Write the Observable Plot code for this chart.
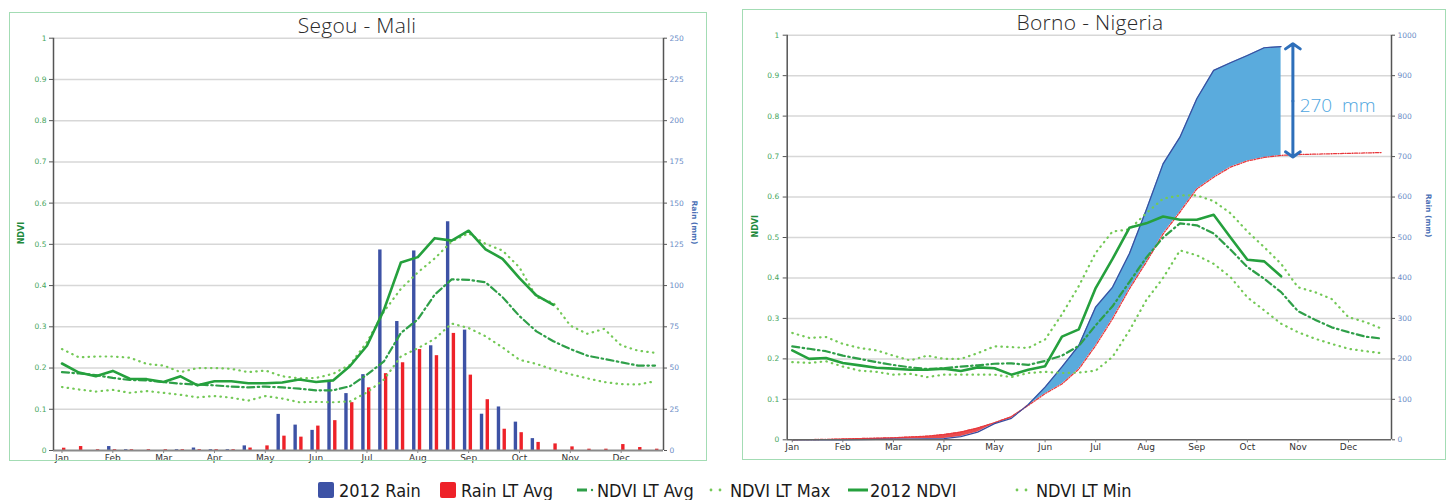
<!DOCTYPE html>
<html><head><meta charset="utf-8">
<script src="https://cdn.jsdelivr.net/npm/d3@7"></script>
<script src="https://cdn.jsdelivr.net/npm/@observablehq/plot@0.6"></script>
<style>
html,body{margin:0;padding:0;background:#fff;}
#root{position:relative;width:1452px;height:500px;overflow:hidden;}
.chart{position:absolute;}
.frame{position:absolute;box-sizing:border-box;border:1.5px solid #a3dcb4;pointer-events:none;}
.title{position:absolute;font-family:"Open Sans",sans-serif;font-weight:300;font-size:21px;color:#2a2a2a;white-space:pre;transform:translateX(-50%);line-height:1;letter-spacing:0.3px;}
#legend{position:absolute;left:0;top:470px;}
</style></head><body><div id="root">
<div class="chart" id="segou" style="left:9px;top:12px"></div>
<div class="chart" id="borno" style="left:742px;top:9px"></div>
<div class="frame" style="left:9px;top:12px;width:698px;height:449px"></div>
<div class="frame" style="left:742px;top:9px;width:704px;height:451px"></div>
<div class="title" style="left:357px;top:15px">Segou - Mali</div>
<div class="title" style="left:1090px;top:12px">Borno - Nigeria</div>
<svg id="legend" width="1452" height="30"></svg>
</div>
<script>
// ---------- categories / ticks ----------
const months = ["Jan","Feb","Mar","Apr","May","Jun","Jul","Aug","Sep","Oct","Nov","Dec"];
const monthTickDekads = [0,3,6,9,12,15,18,21,24,27,30,33];
const ndviTicks = [0,0.1,0.2,0.3,0.4,0.5,0.6,0.7,0.8,0.9,1];
const ndviGrid = [0.1,0.2,0.3,0.4,0.5,0.6,0.7,0.8,0.9,1];
const segouRainTicks = [0,25,50,75,100,125,150,175,200,225,250];
const bornoRainTicks = [0,100,200,300,400,500,600,700,800,900,1000];
const legendLabels = ["2012 Rain","Rain LT Avg","NDVI LT Avg","NDVI LT Max","2012 NDVI","NDVI LT Min"];

// ---------- Segou - Mali (dekadal) ----------
const segouRain2012 = [0,0,0,2.4,0.5,0,0,0.5,1.5,0.5,0.5,2.8,0,21.9,15.4,12.2,41.8,34.5,46,121.6,78.2,121,63.5,138.7,73,22,26.4,17.2,7.2,0,0,0,0,0,0,0];
const segouRainLT   = [1.4,2.4,0.5,0.5,0.5,0.5,0.5,0.5,0.5,0.5,0.5,1.5,2.8,8.7,8.1,14.8,18.1,29,38,46.6,53.2,61.2,57.5,71,45.7,30.8,12.9,10.8,4.9,4,2.2,0.8,0.8,3.6,1.8,0.8];
const segouNdvi2012 = [0.211,0.189,0.180,0.193,0.174,0.173,0.166,0.180,0.158,0.168,0.168,0.163,0.163,0.165,0.172,0.166,0.170,0.205,0.254,0.341,0.456,0.469,0.515,0.509,0.533,0.488,0.465,0.418,0.376,0.353];
const segouNdviAvg  = [0.190,0.187,0.183,0.176,0.171,0.170,0.166,0.162,0.160,0.158,0.155,0.153,0.155,0.153,0.150,0.146,0.146,0.156,0.184,0.216,0.285,0.318,0.378,0.415,0.414,0.408,0.372,0.326,0.289,0.265,0.246,0.230,0.222,0.214,0.206,0.206];
const segouNdviMax  = [0.246,0.226,0.228,0.228,0.225,0.210,0.206,0.190,0.200,0.200,0.198,0.190,0.194,0.180,0.175,0.176,0.186,0.208,0.263,0.337,0.392,0.432,0.466,0.507,0.527,0.501,0.485,0.444,0.372,0.358,0.303,0.283,0.295,0.255,0.242,0.237];
const segouNdviMin  = [0.154,0.148,0.143,0.147,0.140,0.144,0.140,0.135,0.129,0.132,0.128,0.121,0.132,0.126,0.117,0.118,0.117,0.119,0.141,0.172,0.228,0.248,0.271,0.308,0.297,0.277,0.250,0.220,0.210,0.196,0.185,0.175,0.166,0.161,0.160,0.168];

// ---------- Borno - Nigeria (dekadal) ----------
const bornoRainCum2012 = [0,0,0,0,0.5,1,1.5,2,2.5,3,8,19,40,53,87,130,180,233,328,377,460,568,682,748,843,913,932,950,969,972];
const bornoRainCumLT   = [0,0.5,1,2,3,4,5,7,9,13,19,29,42,57,85,114,138,175,233,299,373,439,509,563,620,649,674,689,698,703,705,706,707,708,709,710];
const bornoNdvi2012 = [0.221,0.200,0.202,0.190,0.184,0.178,0.176,0.173,0.173,0.176,0.170,0.179,0.177,0.161,0.173,0.182,0.255,0.273,0.375,0.447,0.524,0.535,0.552,0.544,0.544,0.556,0.500,0.445,0.441,0.404];
const bornoNdviAvg  = [0.231,0.225,0.219,0.208,0.200,0.192,0.185,0.179,0.175,0.177,0.181,0.184,0.188,0.189,0.185,0.195,0.208,0.232,0.283,0.330,0.390,0.450,0.500,0.535,0.530,0.510,0.470,0.427,0.398,0.365,0.318,0.297,0.278,0.266,0.255,0.250];
const bornoNdviMax  = [0.264,0.252,0.254,0.237,0.227,0.221,0.208,0.196,0.208,0.200,0.200,0.214,0.231,0.229,0.227,0.248,0.310,0.380,0.462,0.515,0.520,0.560,0.596,0.604,0.604,0.590,0.560,0.515,0.476,0.435,0.377,0.365,0.348,0.303,0.291,0.274];
const bornoNdviMin  = [0.192,0.190,0.194,0.181,0.171,0.168,0.161,0.163,0.155,0.161,0.161,0.161,0.161,0.155,0.165,0.168,0.165,0.166,0.171,0.205,0.270,0.345,0.400,0.468,0.456,0.435,0.402,0.352,0.320,0.287,0.266,0.250,0.237,0.225,0.219,0.214];
const bornoGapLabel = "270  mm";

// ---------- styles ----------
const BLUE_BAR = "#3d52a5", RED_BAR = "#ee2229";
const G_SOLID = "#25a03d", G_DOT = "#74c957", G_DASH = "#2e9f48";
const NDVI_TXT = "#45a55c", RAIN_TXT = "#6a8cc6";
const AREA_BLUE = "#5aabdd", LINE_BLUE = "#3a4c9e", LT_RED = "#e8383c";
const DOT = "0.5,5.2", DASHDOT = "7,3.5,1.5,3.5";
const fontBase = {fontFamily: "DejaVu Sans, Verdana, sans-serif", overflow: "visible", background: "transparent"};

const idx = d3.range(36);

// ===== Segou chart =====
const SEG_MAX = 250;
const segRows = idx.map(i => ({i, rain: segouRain2012[i], lt: segouRainLT[i], n: segouNdvi2012[i], avg: segouNdviAvg[i], max: segouNdviMax[i], min: segouNdviMin[i]}));
const segNdviRows = segRows.filter(d => d.n != null);

const segou = Plot.plot({
  width: 698, height: 449,
  marginLeft: 44, marginRight: 44, marginTop: 25.7, marginBottom: 11,
  style: fontBase,
  x: {domain: [-0.5, 35.5], axis: null},
  y: {domain: [0, 1], axis: null},
  marks: [
    Plot.ruleY(ndviGrid, {stroke: "#d7d7d7", strokeWidth: 1.5}),
    Plot.rect(segRows, {x1: d => d.i - 0.31, x2: d => d.i - 0.11, y1: 0, y2: d => d.rain / SEG_MAX, fill: BLUE_BAR}),
    Plot.rect(segRows, {x1: d => d.i + 0.03, x2: d => d.i + 0.23, y1: 0, y2: d => d.lt / SEG_MAX, fill: RED_BAR}),
    Plot.line(segRows, {x: "i", y: "max", stroke: G_DOT, strokeWidth: 2.2, strokeDasharray: DOT, strokeLinecap: "round"}),
    Plot.line(segRows, {x: "i", y: "min", stroke: G_DOT, strokeWidth: 2.2, strokeDasharray: DOT, strokeLinecap: "round"}),
    Plot.line(segRows, {x: "i", y: "avg", stroke: G_DASH, strokeWidth: 2.2, strokeDasharray: DASHDOT}),
    Plot.line(segNdviRows, {x: "i", y: "n", stroke: G_SOLID, strokeWidth: 2.6}),
    Plot.ruleY([0], {stroke: "#8a8a8a", strokeWidth: 2}),
    Plot.ruleX([-0.5], {stroke: "#555", strokeWidth: 1.5}),
    Plot.ruleX([35.5], {stroke: "#555", strokeWidth: 1.5}),
    Plot.axisY(ndviTicks, {anchor: "left", tickSize: 4, tickPadding: 3, tickFormat: d => String(d), fontSize: 7.5, fill: NDVI_TXT, stroke: "#555", label: null}),
    Plot.axisY(segouRainTicks.map(v => v / SEG_MAX), {anchor: "right", tickSize: 3, tickPadding: 3, tickFormat: d => String(Math.round(d * SEG_MAX)), fontSize: 7.5, fill: RAIN_TXT, stroke: "#555", label: null}),
    Plot.axisX(monthTickDekads, {anchor: "bottom", tickSize: 3, tickPadding: 1, tickFormat: i => months[i / 3], fontSize: 9, fill: "#333", stroke: "#888", label: null}),
    Plot.text(["NDVI"], {text: d => d, frameAnchor: "left", dx: -32, rotate: -90, fontSize: 8, fontWeight: "bold", fill: "#1e8a3c"}),
    Plot.text(["Rain (mm)"], {text: d => d, frameAnchor: "right", dx: 31, rotate: 90, fontSize: 7.5, fontWeight: "bold", fill: "#4a6fb5"})
  ]
});
document.getElementById("segou").append(segou);

// ===== Borno chart =====
const BOR_MAX = 1000;
const borRows = idx.map(i => ({i, c12: bornoRainCum2012[i], clt: bornoRainCumLT[i], n: bornoNdvi2012[i], avg: bornoNdviAvg[i], max: bornoNdviMax[i], min: bornoNdviMin[i]}));
const bor12 = borRows.filter(d => d.c12 != null);
const crossIdx = 14;
const lastIdx = bor12.length - 1;
const redBand = bor12.filter(d => d.i <= crossIdx);
const blueBand = bor12.filter(d => d.i >= crossIdx);
const gapTop = bornoRainCum2012[lastIdx] / BOR_MAX;
const gapBottom = bornoRainCumLT[lastIdx] / BOR_MAX;
const gapMid = (gapTop + gapBottom) / 2;
const arrowX = lastIdx + 0.7;

const borno = Plot.plot({
  width: 704, height: 451,
  marginLeft: 44.7, marginRight: 55, marginTop: 25.7, marginBottom: 20.7,
  style: fontBase,
  x: {domain: [-0.3, 35.55], axis: null},
  y: {domain: [0, 1], axis: null},
  marks: [
    Plot.ruleY(ndviGrid, {stroke: "#d7d7d7", strokeWidth: 1.5}),
    Plot.areaY(redBand, {x: "i", y1: d => d.c12 / BOR_MAX, y2: d => d.clt / BOR_MAX, fill: LT_RED, fillOpacity: 0.9}),
    Plot.areaY(blueBand, {x: "i", y1: d => d.clt / BOR_MAX, y2: d => d.c12 / BOR_MAX, fill: AREA_BLUE}),
    Plot.line(borRows, {x: "i", y: d => d.clt / BOR_MAX, stroke: LT_RED, strokeWidth: 1.3, strokeDasharray: "3,1.5,1,1.5"}),
    Plot.line(bor12, {x: "i", y: d => d.c12 / BOR_MAX, stroke: LINE_BLUE, strokeWidth: 1.2}),
    Plot.line(borRows, {x: "i", y: "max", stroke: G_DOT, strokeWidth: 2.2, strokeDasharray: DOT, strokeLinecap: "round"}),
    Plot.line(borRows, {x: "i", y: "min", stroke: G_DOT, strokeWidth: 2.2, strokeDasharray: DOT, strokeLinecap: "round"}),
    Plot.line(borRows, {x: "i", y: "avg", stroke: G_DASH, strokeWidth: 2.2, strokeDasharray: DASHDOT}),
    Plot.line(borRows.filter(d => d.n != null), {x: "i", y: "n", stroke: G_SOLID, strokeWidth: 2.6}),
    Plot.arrow([{x: arrowX, y1: gapMid, y2: gapTop + 0.007}, {x: arrowX, y1: gapMid, y2: gapBottom - 0.004}],
      {x1: "x", x2: "x", y1: "y1", y2: "y2", stroke: "#2e6fba", strokeWidth: 3, headLength: 4.5, headAngle: 110}),
    Plot.text([bornoGapLabel], {text: d => d, x: lastIdx + 1.1, y: 0.826, textAnchor: "start", fontSize: 19, fill: "#4fa6e0", fontFamily: "Open Sans, sans-serif", fontWeight: 300}),
    Plot.ruleY([0], {stroke: "#666", strokeWidth: 1.5}),
    Plot.ruleX([-0.3], {stroke: "#555", strokeWidth: 1.5}),
    Plot.ruleX([35.55], {stroke: "#555", strokeWidth: 1.5}),
    Plot.axisY(ndviTicks, {anchor: "left", tickSize: 4, tickPadding: 4, tickFormat: d => String(d), fontSize: 7.5, fill: NDVI_TXT, stroke: "#555", label: null}),
    Plot.axisY(bornoRainTicks.map(v => v / BOR_MAX), {anchor: "right", tickSize: 3, tickPadding: 3, tickFormat: d => String(Math.round(d * BOR_MAX)), fontSize: 7.5, fill: RAIN_TXT, stroke: "#555", label: null}),
    Plot.axisX(monthTickDekads, {anchor: "bottom", tickSize: 3, tickPadding: 1, tickFormat: i => months[i / 3], fontSize: 9, fill: "#333", stroke: "#777", label: null}),
    Plot.text(["NDVI"], {text: d => d, frameAnchor: "left", dx: -31.7, rotate: -90, fontSize: 8, fontWeight: "bold", fill: "#1e8a3c"}),
    Plot.text(["Rain (mm)"], {text: d => d, frameAnchor: "right", dx: 37, rotate: 90, fontSize: 7.5, fontWeight: "bold", fill: "#4a6fb5"})
  ]
});
document.getElementById("borno").append(borno);

// ===== Legend =====
const lg = d3.select("#legend");
const lgFont = "DejaVu Sans Condensed, DejaVu Sans, sans-serif";
const items = [
  {kind: "rect", color: BLUE_BAR, sx: 318, tx: 339},
  {kind: "rect", color: RED_BAR, sx: 440, tx: 461},
  {kind: "dashdot", color: G_DASH, sx: 577, tx: 597},
  {kind: "dot", color: G_DOT, sx: 709, tx: 730},
  {kind: "solid", color: G_SOLID, sx: 848, tx: 870},
  {kind: "dot", color: G_DOT, sx: 1015, tx: 1036}
];
items.forEach((it, k) => {
  if (it.kind === "rect") {
    lg.append("rect").attr("x", it.sx).attr("y", 12).attr("width", 16).attr("height", 16).attr("rx", 2).attr("fill", it.color);
  } else if (it.kind === "dashdot") {
    lg.append("line").attr("x1", it.sx).attr("x2", it.sx + 10).attr("y1", 20).attr("y2", 20).attr("stroke", it.color).attr("stroke-width", 3);
    lg.append("circle").attr("cx", it.sx + 15).attr("cy", 20).attr("r", 1.2).attr("fill", it.color);
  } else if (it.kind === "dot") {
    [0, 9].forEach(o => lg.append("circle").attr("cx", it.sx + 2 + o).attr("cy", 20).attr("r", 1.4).attr("fill", it.color));
  } else {
    lg.append("line").attr("x1", it.sx).attr("x2", it.sx + 20).attr("y1", 20).attr("y2", 20).attr("stroke", it.color).attr("stroke-width", 3);
  }
  lg.append("text").attr("x", it.tx).attr("y", 27).attr("font-family", lgFont).attr("font-stretch", "condensed")
    .attr("font-size", 18).attr("fill", "#1a1a1a").text(legendLabels[k]);
});
</script></body></html>
